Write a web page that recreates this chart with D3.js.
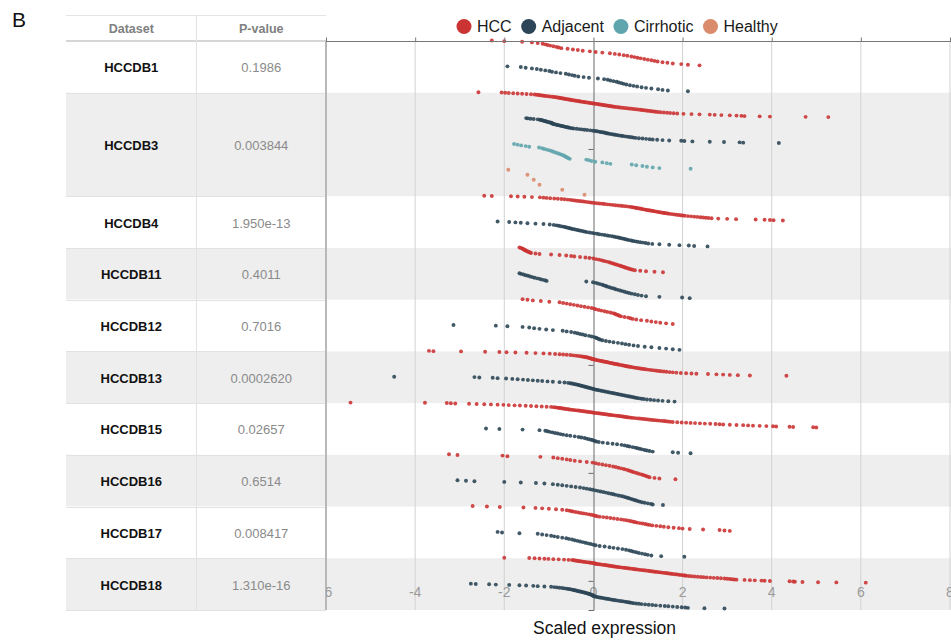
<!DOCTYPE html>
<html>
<head>
<meta charset="utf-8">
<script src="https://cdn.jsdelivr.net/npm/d3@7"></script>
<style>
  body { margin: 0; background: #fff; }
  svg { display: block; font-family: Arial, "Liberation Sans", Helvetica, sans-serif; }
</style>
</head>
<body>
<svg id="chart" width="951" height="642"></svg>
<script>
// ---- table content ----
const datasets = ["HCCDB1", "HCCDB3", "HCCDB4", "HCCDB11", "HCCDB12", "HCCDB13", "HCCDB15", "HCCDB16", "HCCDB17", "HCCDB18"];
const pValues = ["0.1986", "0.003844", "1.950e-13", "0.4011", "0.7016", "0.0002620", "0.02657", "0.6514", "0.008417", "1.310e-16"];
const groups = ["HCC", "Adjacent", "Cirrhotic", "Healthy"];
const groupColors = ["#cc3434", "#2c4657", "#5fa5ad", "#d98b6b"];
const xTicks = [-6, -4, -2, 0, 2, 4, 6, 8];

// ---- scaled expression per sample, sorted ascending ----
const hccdb1Hcc = [-2.28,-2.0,-1.6,-1.38,-1.25,-1.14,-1.08,-1.03,-0.97,-0.9,-0.83,-0.78,-0.72,-0.58,-0.46,-0.35,-0.24,-0.08,0.05,0.2,0.37,0.48,0.58,0.68,0.76,0.85,0.92,0.99,1.06,1.14,1.22,1.3,1.37,1.44,1.55,1.66,1.78,1.97,2.12,2.38];
const hccdb1Adj = [-1.93,-1.63,-1.52,-1.38,-1.27,-1.18,-1.08,-0.99,-0.93,-0.84,-0.74,-0.62,-0.55,-0.48,-0.42,-0.34,-0.22,-0.1,0.1,0.24,0.32,0.38,0.45,0.52,0.57,0.63,0.68,0.74,0.82,0.9,0.98,1.08,1.18,1.3,1.45,1.55,1.67,2.12];

const hccdb3Hcc = [-2.58,-2.06,-1.98,-1.9,-1.8,-1.7,-1.6,-1.5,-1.4,-1.32,-1.27,-1.23,-1.19,-1.15,-1.11,-1.07,-1.02,-0.97,-0.92,-0.88,-0.84,-0.8,-0.77,-0.74,-0.71,-0.68,-0.65,-0.62,-0.58,-0.55,-0.52,-0.49,-0.46,-0.42,-0.39,-0.35,-0.32,-0.29,-0.25,-0.21,-0.18,-0.14,-0.1,-0.07,-0.03,0.0,0.04,0.08,0.12,0.15,0.19,0.22,0.26,0.29,0.33,0.36,0.4,0.43,0.47,0.51,0.56,0.6,0.65,0.7,0.75,0.8,0.85,0.9,0.95,1.0,1.05,1.09,1.13,1.18,1.22,1.27,1.31,1.36,1.4,1.45,1.51,1.58,1.65,1.72,1.8,1.88,2.02,2.2,2.38,2.61,2.72,2.87,3.06,3.21,3.32,3.39,3.73,3.96,4.76,5.27];
const hccdb3Adj = [-1.51,-1.47,-1.41,-1.34,-1.25,-1.2,-1.18,-1.15,-1.13,-1.1,-1.08,-1.05,-1.03,-1.0,-0.97,-0.95,-0.93,-0.92,-0.91,-0.89,-0.86,-0.83,-0.8,-0.77,-0.74,-0.71,-0.68,-0.65,-0.62,-0.59,-0.56,-0.53,-0.49,-0.45,-0.38,-0.32,-0.26,-0.2,-0.14,-0.07,-0.01,0.04,0.08,0.12,0.16,0.2,0.24,0.27,0.3,0.33,0.37,0.41,0.45,0.49,0.53,0.57,0.62,0.66,0.71,0.76,0.81,0.86,0.9,0.95,1.02,1.1,1.18,1.26,1.33,1.43,1.55,1.7,1.97,2.04,2.22,2.61,2.93,3.28,3.36,4.16];
const hccdb3Cir = [-1.78,-1.7,-1.62,-1.52,-1.44,-1.22,-1.15,-1.1,-1.04,-0.99,-0.94,-0.9,-0.85,-0.8,-0.76,-0.72,-0.68,-0.65,-0.62,-0.59,-0.56,-0.53,-0.16,-0.1,-0.04,0.04,0.2,0.3,0.38,0.86,0.96,1.1,1.2,1.33,1.48,2.18];
const hccdb3Hea = [-1.91,-1.48,-1.34,-1.21,-0.7,-0.2];

const hccdb4Hcc = [-2.45,-2.28,-1.85,-1.7,-1.55,-1.38,-1.2,-1.12,-1.05,-0.97,-0.88,-0.8,-0.72,-0.65,-0.58,-0.52,-0.47,-0.42,-0.37,-0.32,-0.27,-0.22,-0.17,-0.12,-0.07,-0.03,0.02,0.08,0.14,0.2,0.25,0.31,0.37,0.43,0.49,0.55,0.61,0.66,0.72,0.78,0.83,0.87,0.9,0.94,0.97,1.0,1.04,1.07,1.1,1.13,1.17,1.2,1.24,1.27,1.31,1.34,1.38,1.41,1.45,1.48,1.52,1.56,1.59,1.63,1.67,1.71,1.76,1.81,1.86,1.91,1.96,2.0,2.05,2.12,2.19,2.26,2.33,2.4,2.46,2.52,2.58,2.65,2.8,3.0,3.2,3.64,3.84,3.96,4.04,4.25];
const hccdb4Adj = [-2.15,-1.89,-1.75,-1.63,-1.48,-1.3,-1.12,-0.98,-0.89,-0.83,-0.78,-0.73,-0.68,-0.64,-0.6,-0.56,-0.53,-0.49,-0.45,-0.41,-0.36,-0.32,-0.28,-0.23,-0.19,-0.15,-0.09,-0.03,0.02,0.08,0.13,0.19,0.25,0.31,0.36,0.42,0.47,0.52,0.56,0.6,0.64,0.68,0.72,0.76,0.8,0.85,0.89,0.94,0.99,1.05,1.11,1.17,1.23,1.32,1.48,1.7,1.93,2.14,2.26,2.56];

const hccdb11Hcc = [-1.66,-1.63,-1.6,-1.58,-1.56,-1.54,-1.52,-1.5,-1.47,-1.45,-1.42,-1.4,-1.3,-1.21,-0.95,-0.76,-0.61,-0.5,-0.43,-0.3,-0.18,-0.09,0.0,0.06,0.12,0.17,0.21,0.25,0.3,0.35,0.38,0.42,0.45,0.49,0.52,0.56,0.6,0.63,0.67,0.7,0.73,0.77,0.8,0.84,0.88,0.93,1.05,1.18,1.37,1.56];
const hccdb11Adj = [-1.66,-1.62,-1.57,-1.52,-1.47,-1.42,-1.37,-1.32,-1.26,-1.2,-1.15,-1.09,-1.05,-0.16,-0.01,0.05,0.1,0.15,0.2,0.24,0.28,0.31,0.36,0.41,0.46,0.5,0.55,0.6,0.65,0.7,0.75,0.8,0.86,0.93,1.0,1.08,1.18,1.48,1.99,2.16];

const hccdb12Hcc = [-1.59,-1.48,-1.36,-1.18,-0.99,-0.76,-0.68,-0.6,-0.52,-0.44,-0.36,-0.28,-0.2,-0.12,-0.04,0.02,0.06,0.12,0.18,0.25,0.31,0.38,0.44,0.48,0.51,0.55,0.58,0.62,0.7,0.78,0.83,0.88,0.96,1.07,1.2,1.3,1.4,1.5,1.63,1.78];
const hccdb12Adj = [-3.14,-2.19,-1.93,-1.59,-1.44,-1.33,-1.21,-1.06,-0.91,-0.69,-0.6,-0.5,-0.42,-0.36,-0.3,-0.24,-0.18,-0.1,-0.04,0.02,0.06,0.09,0.12,0.15,0.2,0.28,0.36,0.45,0.55,0.64,0.72,0.8,0.9,1.0,1.15,1.3,1.48,1.63,1.78,1.93];

const hccdb13Hcc = [-3.69,-3.59,-2.97,-2.43,-2.11,-1.95,-1.75,-1.5,-1.3,-1.12,-0.98,-0.86,-0.76,-0.68,-0.6,-0.52,-0.46,-0.4,-0.35,-0.3,-0.26,-0.22,-0.19,-0.16,-0.13,-0.1,-0.08,-0.06,-0.04,-0.02,0.0,0.02,0.05,0.08,0.11,0.14,0.17,0.2,0.23,0.26,0.29,0.32,0.35,0.38,0.41,0.44,0.47,0.5,0.53,0.56,0.59,0.63,0.66,0.69,0.72,0.75,0.78,0.81,0.85,0.89,0.93,0.97,1.01,1.05,1.09,1.13,1.17,1.22,1.27,1.32,1.37,1.42,1.47,1.52,1.58,1.64,1.71,1.78,1.86,1.96,2.08,2.2,2.31,2.57,2.76,2.91,3.06,3.24,3.51,4.33];
const hccdb13Adj = [-4.47,-2.67,-2.56,-2.26,-2.15,-1.96,-1.82,-1.7,-1.58,-1.47,-1.36,-1.25,-1.15,-1.03,-0.91,-0.76,-0.65,-0.57,-0.52,-0.48,-0.44,-0.4,-0.36,-0.33,-0.3,-0.27,-0.24,-0.21,-0.18,-0.15,-0.12,-0.09,-0.06,-0.03,0.0,0.03,0.06,0.1,0.14,0.18,0.22,0.26,0.3,0.34,0.38,0.42,0.46,0.5,0.54,0.58,0.62,0.66,0.7,0.74,0.78,0.82,0.86,0.9,0.94,0.98,1.03,1.08,1.13,1.2,1.28,1.36,1.45,1.55,1.68,1.82];

const hccdb15Hcc = [-5.45,-3.78,-3.29,-3.2,-3.1,-2.79,-2.62,-2.45,-2.3,-2.15,-2.02,-1.9,-1.77,-1.65,-1.52,-1.4,-1.28,-1.16,-1.05,-0.95,-0.89,-0.85,-0.81,-0.78,-0.75,-0.72,-0.68,-0.65,-0.61,-0.57,-0.54,-0.5,-0.46,-0.42,-0.38,-0.34,-0.3,-0.26,-0.22,-0.18,-0.14,-0.1,-0.06,-0.03,0.0,0.03,0.07,0.11,0.15,0.19,0.23,0.27,0.31,0.35,0.38,0.42,0.46,0.5,0.54,0.58,0.62,0.66,0.69,0.73,0.76,0.8,0.84,0.88,0.93,0.98,1.03,1.08,1.13,1.18,1.23,1.28,1.33,1.38,1.43,1.48,1.53,1.58,1.62,1.67,1.72,1.78,1.88,1.98,2.08,2.18,2.28,2.39,2.5,2.62,2.74,2.83,2.91,3.06,3.21,3.36,3.47,3.58,3.73,3.88,4.03,4.1,4.4,4.48,4.93,5.0];
const hccdb15Adj = [-2.41,-2.11,-1.59,-1.21,-1.08,-1.03,-0.98,-0.92,-0.86,-0.8,-0.74,-0.68,-0.6,-0.52,-0.42,-0.33,-0.27,-0.2,-0.15,-0.1,-0.05,-0.01,0.03,0.06,0.12,0.21,0.32,0.43,0.53,0.63,0.7,0.76,0.81,0.88,0.94,0.99,1.04,1.09,1.15,1.2,1.26,1.33,1.78,1.9,2.18];

const hccdb16Hcc = [-3.24,-3.05,-2.04,-1.93,-1.19,-0.9,-0.8,-0.7,-0.6,-0.52,-0.42,-0.3,-0.15,-0.02,0.05,0.12,0.2,0.28,0.36,0.44,0.5,0.56,0.62,0.68,0.73,0.78,0.82,0.86,0.9,0.95,1.0,1.05,1.1,1.14,1.18,1.22,1.26,1.37,1.48,1.84];
const hccdb16Adj = [-3.05,-2.86,-2.67,-2.0,-1.63,-1.29,-1.1,-0.91,-0.8,-0.7,-0.6,-0.5,-0.4,-0.3,-0.22,-0.15,-0.08,-0.02,0.04,0.1,0.16,0.22,0.28,0.34,0.4,0.45,0.5,0.56,0.62,0.67,0.72,0.76,0.8,0.84,0.88,0.92,0.96,1.0,1.04,1.09,1.15,1.22,1.29,1.33,1.56];

const hccdb17Hcc = [-2.71,-2.39,-2.1,-1.57,-1.3,-1.15,-1.0,-0.84,-0.7,-0.6,-0.54,-0.5,-0.46,-0.4,-0.34,-0.28,-0.22,-0.16,-0.1,-0.05,0.0,0.04,0.08,0.14,0.22,0.3,0.38,0.46,0.54,0.62,0.68,0.74,0.8,0.85,0.9,0.94,0.98,1.04,1.1,1.16,1.21,1.26,1.32,1.41,1.5,1.58,1.68,1.8,1.92,2.0,2.16,2.46,2.83,2.94,3.06];
const hccdb17Adj = [-2.15,-2.05,-1.66,-1.25,-1.15,-1.05,-0.95,-0.88,-0.8,-0.7,-0.61,-0.55,-0.48,-0.42,-0.36,-0.3,-0.24,-0.18,-0.12,-0.06,0.0,0.05,0.14,0.25,0.36,0.45,0.55,0.65,0.73,0.8,0.85,0.9,0.96,1.02,1.09,1.16,1.22,1.3,1.52,2.04];

const hccdb18Hcc = [-2.0,-1.44,-1.32,-1.21,-1.1,-1.01,-0.9,-0.78,-0.66,-0.56,-0.48,-0.44,-0.41,-0.37,-0.34,-0.3,-0.27,-0.23,-0.2,-0.16,-0.13,-0.09,-0.06,-0.02,0.01,0.03,0.05,0.08,0.12,0.15,0.19,0.22,0.26,0.29,0.33,0.36,0.4,0.43,0.47,0.5,0.54,0.57,0.61,0.65,0.69,0.73,0.77,0.81,0.86,0.9,0.94,0.97,1.01,1.05,1.09,1.13,1.17,1.22,1.26,1.3,1.34,1.38,1.42,1.46,1.5,1.54,1.58,1.62,1.66,1.7,1.74,1.78,1.83,1.87,1.91,1.95,1.99,2.02,2.05,2.08,2.14,2.2,2.27,2.34,2.41,2.47,2.54,2.62,2.7,2.78,2.86,2.94,3.0,3.06,3.11,3.16,3.21,3.39,3.51,3.62,3.77,3.84,3.96,4.4,4.48,4.52,4.69,5.04,5.45,6.11];
const hccdb18Adj = [-2.75,-2.64,-2.34,-2.19,-1.89,-1.66,-1.51,-1.35,-1.25,-1.1,-0.95,-0.88,-0.82,-0.76,-0.7,-0.65,-0.6,-0.56,-0.52,-0.48,-0.45,-0.42,-0.39,-0.36,-0.33,-0.3,-0.27,-0.24,-0.21,-0.18,-0.16,-0.13,-0.11,-0.09,-0.07,-0.05,-0.03,-0.02,-0.01,0.0,0.02,0.04,0.07,0.1,0.14,0.18,0.22,0.26,0.3,0.34,0.38,0.42,0.46,0.5,0.55,0.6,0.65,0.7,0.74,0.78,0.82,0.86,0.9,0.96,1.02,1.08,1.16,1.24,1.32,1.4,1.5,1.6,1.68,1.78,1.88,1.98,2.06,2.12,2.49,2.94];

// one entry per sub-row of the strip plot, in drawing order
const seriesList = [
  { dataset: "HCCDB1", group: "HCC", values: hccdb1Hcc },
  { dataset: "HCCDB1", group: "Adjacent", values: hccdb1Adj },
  { dataset: "HCCDB3", group: "HCC", values: hccdb3Hcc },
  { dataset: "HCCDB3", group: "Adjacent", values: hccdb3Adj },
  { dataset: "HCCDB3", group: "Cirrhotic", values: hccdb3Cir },
  { dataset: "HCCDB3", group: "Healthy", values: hccdb3Hea },
  { dataset: "HCCDB4", group: "HCC", values: hccdb4Hcc },
  { dataset: "HCCDB4", group: "Adjacent", values: hccdb4Adj },
  { dataset: "HCCDB11", group: "HCC", values: hccdb11Hcc },
  { dataset: "HCCDB11", group: "Adjacent", values: hccdb11Adj },
  { dataset: "HCCDB12", group: "HCC", values: hccdb12Hcc },
  { dataset: "HCCDB12", group: "Adjacent", values: hccdb12Adj },
  { dataset: "HCCDB13", group: "HCC", values: hccdb13Hcc },
  { dataset: "HCCDB13", group: "Adjacent", values: hccdb13Adj },
  { dataset: "HCCDB15", group: "HCC", values: hccdb15Hcc },
  { dataset: "HCCDB15", group: "Adjacent", values: hccdb15Adj },
  { dataset: "HCCDB16", group: "HCC", values: hccdb16Hcc },
  { dataset: "HCCDB16", group: "Adjacent", values: hccdb16Adj },
  { dataset: "HCCDB17", group: "HCC", values: hccdb17Hcc },
  { dataset: "HCCDB17", group: "Adjacent", values: hccdb17Adj },
  { dataset: "HCCDB18", group: "HCC", values: hccdb18Hcc },
  { dataset: "HCCDB18", group: "Adjacent", values: hccdb18Adj }
];

// ---- layout ----
const tableLeft = 66, colSplit = 196.5, plotLeft = 326, plotRight = 951;
const headerTop = 15, plotTop = 41, plotBottom = 610;
const shade = "#eeeeee";

const svg = d3.select("#chart");
const color = d3.scaleOrdinal().domain(groups).range(groupColors);

const x = d3.scaleLinear().domain([-6, 8]).range([plotLeft, 950]);
const yBand = d3.scaleBand()
  .domain(seriesList.map((s, i) => i))
  .range([plotTop, plotBottom])
  .paddingInner(0).paddingOuter(0);

// extent of each dataset row
const rows = datasets.map((name, k) => {
  const idx = seriesList.map((s, i) => s.dataset === name ? i : -1).filter(i => i >= 0);
  const top = yBand(idx[0]);
  const bottom = yBand(idx[idx.length - 1]) + yBand.bandwidth();
  return { name, p: pValues[k], top, bottom, shaded: k % 2 === 1 };
});

// alternating row shading across plot
svg.append("g").selectAll("rect").data(rows.filter(r => r.shaded)).join("rect")
  .attr("x", plotLeft).attr("y", d => d.top)
  .attr("width", plotRight - plotLeft).attr("height", d => d.bottom - d.top)
  .attr("fill", shade);

// vertical grid lines
svg.append("g").selectAll("line").data(xTicks.filter(t => t !== 0 && t !== -6)).join("line")
  .attr("x1", d => x(d)).attr("x2", d => x(d))
  .attr("y1", plotTop).attr("y2", plotBottom)
  .attr("stroke", "#d2d2d2").attr("stroke-width", 1);

// left border of plot
svg.append("line")
  .attr("x1", plotLeft + 0.5).attr("x2", plotLeft + 0.5)
  .attr("y1", plotTop).attr("y2", plotBottom)
  .attr("stroke", "#b8b8b8");

// tick labels inside the bottom of the plot
svg.append("g").selectAll("text").data(xTicks).join("text")
  .attr("x", d => x(d)).attr("y", 597)
  .attr("text-anchor", "middle")
  .attr("font-size", 14).attr("fill", "#9a9a9a")
  .text(d => String(d));

// zero line drawn as a vertical axis
const yAxisScale = d3.scaleLinear().domain([0, 5.27]).range([plotTop, plotBottom]);
const zeroAxis = svg.append("g")
  .attr("transform", `translate(${Math.round(x(0)) + 0.5},0)`)
  .call(d3.axisLeft(yAxisScale).tickValues([1, 2, 3, 4, 5]).tickSize(5).tickSizeOuter(5).tickFormat(""));
zeroAxis.select(".domain").attr("stroke", "#6a6a6a");
zeroAxis.selectAll(".tick line").attr("stroke", "#6a6a6a");

// points: value on x, rank within its sub-row on y
const dotLayer = svg.append("g");
seriesList.forEach((s, i) => {
  const top = yBand(i);
  const sorted = s.values.slice().sort((a, b) => a - b);
  const rankY = d3.scaleLinear().domain([0, Math.max(1, sorted.length - 1)])
    .range([top - 0.5, top + yBand.bandwidth() - 1.5]);
  dotLayer.append("g").selectAll("circle").data(sorted).join("circle")
    .attr("cx", d => x(d))
    .attr("cy", (d, j) => rankY(j))
    .attr("r", 1.95)
    .attr("fill", color(s.group))
    .attr("fill-opacity", 0.9);
});

// top axis line with outward ticks
const topAxis = svg.append("g")
  .attr("transform", `translate(0,${plotTop + 0.5})`)
  .call(d3.axisTop(x).tickValues(xTicks).tickSize(4).tickSizeOuter(0).tickFormat(""));
topAxis.select(".domain").attr("stroke", "#777").attr("d", `M${plotLeft},0H${plotRight}`);
topAxis.selectAll(".tick line").attr("stroke", "#777");

// ---- table ----
const table = svg.append("g");
table.append("rect")
  .attr("x", tableLeft).attr("y", headerTop)
  .attr("width", plotLeft - tableLeft).attr("height", plotBottom - headerTop)
  .attr("fill", "#fff");
table.selectAll("rect.row").data(rows).join("rect")
  .attr("class", "row")
  .attr("x", tableLeft).attr("y", d => d.top)
  .attr("width", plotLeft - tableLeft).attr("height", d => d.bottom - d.top)
  .attr("fill", d => d.shaded ? shade : "#fff");

// row separators
table.selectAll("line.sep").data(rows.slice(1)).join("line")
  .attr("class", "sep")
  .attr("x1", tableLeft).attr("x2", plotLeft)
  .attr("y1", d => Math.round(d.top) + 0.5).attr("y2", d => Math.round(d.top) + 0.5)
  .attr("stroke", "#e2e2e2");
table.append("line")
  .attr("x1", tableLeft).attr("x2", plotLeft)
  .attr("y1", plotBottom + 0.5).attr("y2", plotBottom + 0.5)
  .attr("stroke", "#e2e2e2");
// header borders
table.append("line")
  .attr("x1", tableLeft).attr("x2", plotLeft)
  .attr("y1", headerTop + 0.5).attr("y2", headerTop + 0.5)
  .attr("stroke", "#e4e4e4");
table.append("line")
  .attr("x1", tableLeft).attr("x2", plotLeft)
  .attr("y1", plotTop).attr("y2", plotTop)
  .attr("stroke", "#d6d6d6").attr("stroke-width", 2);
// column separator
table.append("line")
  .attr("x1", colSplit).attr("x2", colSplit)
  .attr("y1", headerTop).attr("y2", plotBottom)
  .attr("stroke", "#e2e2e2");
// right border (shared with plot)
table.append("line")
  .attr("x1", plotLeft - 0.5).attr("x2", plotLeft - 0.5)
  .attr("y1", plotTop).attr("y2", plotBottom)
  .attr("stroke", "#b8b8b8");

// header labels
const col1 = (tableLeft + colSplit) / 2, col2 = (colSplit + plotLeft) / 2;
table.append("text").attr("x", col1).attr("y", 33)
  .attr("text-anchor", "middle").attr("font-size", 12.5).attr("font-weight", "bold")
  .attr("fill", "#808080").text("Dataset");
table.append("text").attr("x", col2).attr("y", 33)
  .attr("text-anchor", "middle").attr("font-size", 12.5).attr("font-weight", "bold")
  .attr("fill", "#808080").text("P-value");

// row labels
table.selectAll("text.name").data(rows).join("text")
  .attr("class", "name")
  .attr("x", col1).attr("y", d => (d.top + d.bottom) / 2 + 5.5)
  .attr("text-anchor", "middle").attr("font-size", 13).attr("font-weight", "bold")
  .attr("fill", "#111").text(d => d.name);
table.selectAll("text.pval").data(rows).join("text")
  .attr("class", "pval")
  .attr("x", col2).attr("y", d => (d.top + d.bottom) / 2 + 5.5)
  .attr("text-anchor", "middle").attr("font-size", 13)
  .attr("fill", "#8a8a8a").text(d => d.p);

// ---- legend ----
const legend = svg.append("g");
let cursor = 456.5;
groups.forEach(g => {
  legend.append("circle").attr("cx", cursor + 7.5).attr("cy", 26.5).attr("r", 7.5)
    .attr("fill", color(g));
  const t = legend.append("text").attr("x", cursor + 20.5).attr("y", 32.3)
    .attr("font-size", 16).attr("fill", "#1a1a1a").text(g);
  cursor = cursor + 20.5 + t.node().getComputedTextLength() + 9.5;
});

// panel letter and axis title
svg.append("text").attr("x", 12).attr("y", 27)
  .attr("font-size", 21).attr("fill", "#111").text("B");
svg.append("text").attr("x", 604.5).attr("y", 634)
  .attr("text-anchor", "middle").attr("font-size", 17.5).attr("fill", "#111")
  .text("Scaled expression");
</script>
</body>
</html>
